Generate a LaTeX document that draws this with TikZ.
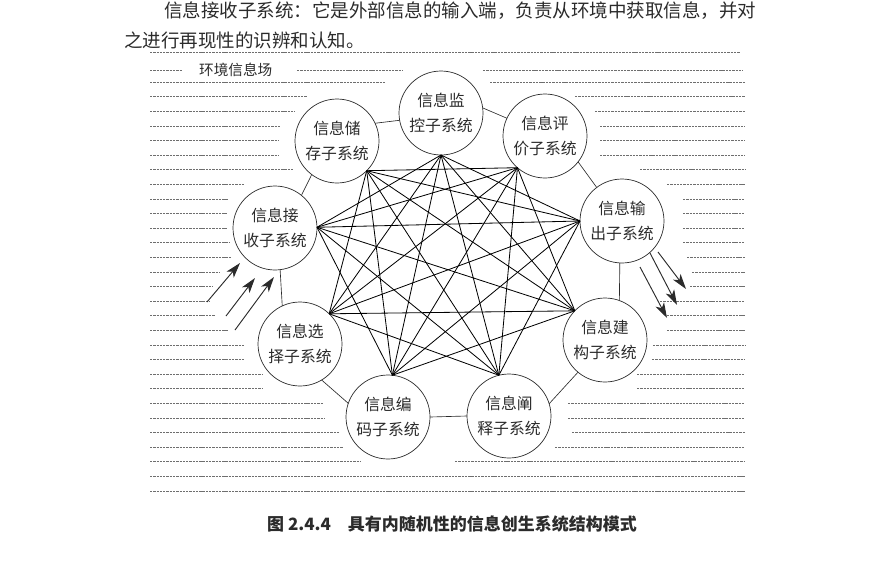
\documentclass[tikz,border=0pt]{standalone}
\usepackage{fontspec}
\setmainfont{Noto Sans CJK SC}
\usetikzlibrary{arrows.meta}
\usetikzlibrary{positioning}
\definecolor{InkGray}{HTML}{2B2B2B}
\definecolor{FieldGray}{HTML}{6E6E6E}
\tikzset{
  subsys/.style={draw=InkGray, line width=0.6pt, circle, minimum size=2.52cm,
    inner sep=0pt, outer sep=0pt, align=center, text=InkGray,
    font=\fontsize{13.5}{21.5}\selectfont},
  envline/.style={draw=FieldGray, line width=0.5pt, dash pattern=on 2pt off 0.8pt},
  ringlink/.style={draw=InkGray, line width=0.55pt},
  crosslink/.style={draw=black, line width=0.7pt},
  flow/.style={draw=InkGray, line width=0.8pt, -{Stealth[length=13pt,width=8pt,inset=3.5pt]}},
}

\begin{document}
\begin{tikzpicture}[x=0.3mm, y=-0.3mm]
  \useasboundingbox (0,0) rectangle (878,564);

  % page text above the figure
  \node [anchor=west, text=InkGray, font=\fontsize{15.8}{18}\selectfont] (TextA) at (160,11)
    {信息接收子系统：它是外部信息的输入端，负责从环境中获取信息，并对};
  \node [anchor=west, text=InkGray, font=\fontsize{15.8}{18}\selectfont] (TextB) at (120,40)
    {之进行再现性的识辨和认知。};

  % environment field
  \draw [envline] (150,52) -- (740,52);
  \draw [envline] (150,70) -- (182,70);
  \node [anchor=west, text=InkGray, font=\fontsize{12.5}{14}\selectfont] (Legend) at (195,70) {环境信息场};
  \draw [envline] (297,70) -- (403,70);
  \draw [envline] (483,70) -- (743,70);
  \foreach \k/\xl/\xr in {1/385/490, 2/307/575, 3/295/595, 4/280/600, 5/278/600,
    6/278/600, 7/293/640, 8/245/667, 9/228/683, 10/227/683, 11/227/683,
    12/230/683, 13/232/687, 14/220/692, 15/213/690, 16/210/660, 17/215/667,
    18/228/667, 19/245/653, 20/245/652, 21/262/637, 22/263/637, 23/323/568,
    24/325/568, 25/340/572, 26/343/555, 27/360/455, 28/743/743, 29/743/743}{%
    \draw [envline] (150,{67.4+14.6*\k}) -- (\xl,{67.4+14.6*\k});
    \draw [envline] (\xr,{67.4+14.6*\k}) -- (745,{67.4+14.6*\k});
  }

  % subsystems
  \node [subsys] (Monitor)   at (441,113) {信息监\\控子系统};
  \node [subsys] (Evaluate)  at (545,136) {信息评\\价子系统};
  \node [subsys] (Output)    at (622,221) {信息输\\出子系统};
  \node [subsys] (Build)     at (605,340) {信息建\\构子系统};
  \node [subsys] (Interpret) at (509,416) {信息阐\\释子系统};
  \node [subsys] (Encode)    at (388,417) {信息编\\码子系统};
  \node [subsys] (Select)    at (300,344) {信息选\\择子系统};
  \node [subsys] (Receive)   at (275,228) {信息接\\收子系统};
  \node [subsys] (Store)     at (337,141) {信息储\\存子系统};

  % ring between neighbours
  \draw [ringlink] (Store.25) -- (Monitor.190);
  \draw [ringlink] (Monitor.7) -- (Evaluate.155);
  \draw [ringlink] (Evaluate.-38) -- (Output.127);
  \draw [ringlink] (Output.-93) -- (Build.70);
  \draw [ringlink] (Build.230) -- (Interpret.17);
  \draw [ringlink] (Interpret.180) -- (Encode.0);
  \draw [ringlink] (Encode.161) -- (Select.-59);
  \draw [ringlink] (Select.115) -- (Receive.-83);
  \draw [ringlink] (Receive.51) -- (Store.233);

  % inner links between all non-neighbours
  \foreach \name/\ang [count=\i from 0] in {Monitor/270, Evaluate/229, Output/180,
    Build/136, Interpret/104, Encode/84, Select/46, Receive/1, Store/315}{%
    \coordinate (p\i) at (\name.\ang);
  }
  \foreach \i in {0,...,8}{%
    \foreach \d in {2,3,4}{%
      \pgfmathtruncatemacro{\j}{mod(\i+\d,9)}
      \draw [crosslink] (p\i) -- (p\j);
    }
  }

  % information in and out
  \coordinate (InA)  at (207,302);  \coordinate (InATip)  at (240,263);
  \coordinate (InB)  at (226,316);  \coordinate (InBTip)  at (255,278);
  \coordinate (InC)  at (235,330);  \coordinate (InCTip)  at (274,277);
  \draw [flow] (InA) -- (InATip);
  \draw [flow] (InB) -- (InBTip);
  \draw [flow] (InC) -- (InCTip);
  \coordinate (OutA) at (658,252);  \coordinate (OutATip) at (686,289);
  \coordinate (OutB) at (650,253);  \coordinate (OutBTip) at (677,305);
  \coordinate (OutC) at (640,267);  \coordinate (OutCTip) at (667,318);
  \draw [flow] (OutA) -- (OutATip);
  \draw [flow] (OutB) -- (OutBTip);
  \draw [flow] (OutC) -- (OutCTip);

  % caption
  \node [anchor=west, text=InkGray, font=\fontsize{14.5}{16}\selectfont\bfseries] (Caption) at (263,524)
    {图 2.4.4\quad 具有内随机性的信息创生系统结构模式};
\end{tikzpicture}
\end{document}
